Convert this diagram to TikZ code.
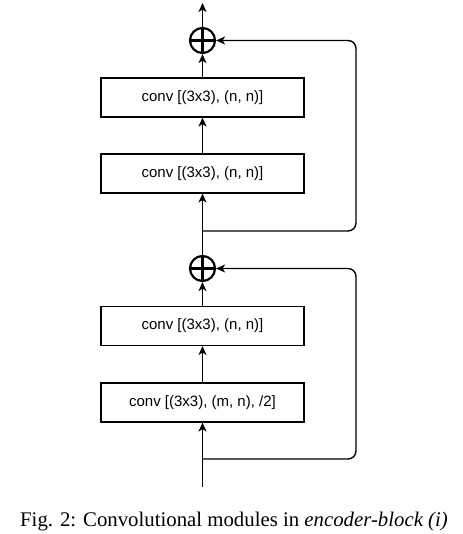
\documentclass[tikz,border=0pt]{standalone}
\usepackage{fontspec}
\setmainfont{Liberation Serif}
\newfontfamily\boxfont{Liberation Sans}
\usetikzlibrary{arrows.meta}
\begin{document}
\begin{tikzpicture}[x=1pt,y=-1pt,
  conv/.style={draw, line width=1.1pt, minimum width=203pt, minimum height=39pt, inner sep=0pt, font=\boxfont\fontsize{15}{18}\selectfont},
  addnode/.style={circle, draw, line width=2.2pt, minimum size=25pt, inner sep=0pt},
  arr/.style={line width=1.4pt, -{Stealth[length=9pt,width=8pt,inset=2.5pt]}},
  fb/.style={arr, rounded corners=8pt}
]
\useasboundingbox (0,0) rectangle (462,534);
\node[addnode] (add1) at (202.5,40.5) {};
\draw[line width=2.2pt] (add1.north) -- (add1.south) (add1.west) -- (add1.east);
\node[conv] (b1) at (202.5,97.5) {conv [(3x3), (n, n)]};
\node[conv] (b2) at (202.5,173.5) {conv [(3x3), (n, n)]};
\node[addnode] (add2) at (202.5,268.5) {};
\draw[line width=2.2pt] (add2.north) -- (add2.south) (add2.west) -- (add2.east);
\node[conv] (b3) at (202.5,326) {conv [(3x3), (n, n)]};
\node[conv] (b4) at (202.5,402.5) {conv [(3x3), (m, n), /2]};
\coordinate (out) at (202.5,3);
\coordinate (in) at (202.5,487);
\coordinate (br1) at (202.5,231);
\coordinate (c1a) at (356,231);
\coordinate (c1b) at (356,40.5);
\coordinate (br2) at (202.5,459);
\coordinate (c2a) at (356,459);
\coordinate (c2b) at (356,268.5);
\draw[arr] (add1.north) -- (out);
\draw[arr] (b1.north) -- (add1.south);
\draw[arr] (b2.north) -- (b1.south);
\draw[arr] (add2.north) -- (b2.south);
\draw[arr] (b3.north) -- (add2.south);
\draw[arr] (b4.north) -- (b3.south);
\draw[arr] (in) -- (b4.south);
\draw[fb] (br1) -- (c1a) -- (c1b) -- (add1.east);
\draw[fb] (br2) -- (c2a) -- (c2b) -- (add2.east);
\node[font=\fontsize{20.8}{23}\selectfont, anchor=base, inner sep=0pt] (cap) at (234,526) {Fig. 2: Convolutional modules in \emph{encoder-block (i)}};
\end{tikzpicture}
\end{document}
